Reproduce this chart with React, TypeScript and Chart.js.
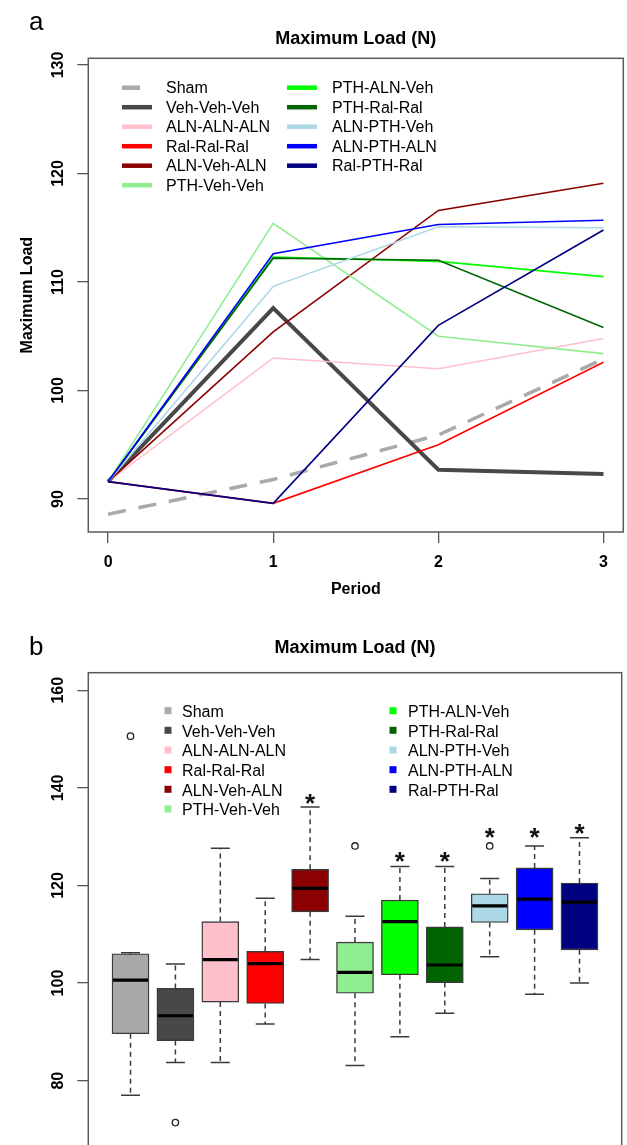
import React, { useEffect, useRef } from 'react';
import { Chart, registerables } from 'chart.js';

Chart.register(...registerables);

const FONT = '"Liberation Sans", Arial, Helvetica, sans-serif';

// ---------- data ----------
const groupNames = [
  'Sham', 'Veh-Veh-Veh', 'ALN-ALN-ALN', 'Ral-Ral-Ral', 'ALN-Veh-ALN', 'PTH-Veh-Veh',
  'PTH-ALN-Veh', 'PTH-Ral-Ral', 'ALN-PTH-Veh', 'ALN-PTH-ALN', 'Ral-PTH-Ral',
];
const groupColors = [
  '#a9a9a9', '#484848', '#ffc0cb', '#ff0000', '#8b0000', '#90ee90',
  '#00ff00', '#006400', '#add8e6', '#0000ff', '#000080',
];

const periods = [0, 1, 2, 3];
const shamLoad = [88.6, 91.8, 95.9, 102.9];
const vehVehVehLoad = [91.6, 107.6, 92.7, 92.3];
const alnAlnAlnLoad = [91.6, 103.0, 102.0, 104.8];
const ralRalRalLoad = [91.6, 89.6, 95.0, 102.6];
const alnVehAlnLoad = [91.6, 105.4, 116.6, 119.1];
const pthVehVehLoad = [91.6, 115.4, 105.0, 103.4];
const pthAlnVehLoad = [91.6, 112.3, 111.9, 110.5];
const pthRalRalLoad = [91.6, 112.2, 112.0, 105.8];
const alnPthVehLoad = [91.6, 109.6, 115.1, 115.0];
const alnPthAlnLoad = [91.6, 112.6, 115.3, 115.7];
const ralPthRalLoad = [91.6, 89.6, 106.0, 114.8];
const lineSeries = [
  shamLoad, vehVehVehLoad, alnAlnAlnLoad, ralRalRalLoad, alnVehAlnLoad, pthVehVehLoad,
  pthAlnVehLoad, pthRalRalLoad, alnPthVehLoad, alnPthAlnLoad, ralPthRalLoad,
];

const periodTicks = [0, 1, 2, 3];
const loadTicksA = [90, 100, 110, 120, 130];
const loadTicksB = [80, 100, 120, 140, 160];

const boxLower = [77.0, 83.7, 83.7, 91.6, 104.8, 83.1, 89.0, 93.8, 105.4, 97.7, 100.0];
const boxQ1 = [89.6, 88.2, 96.1, 95.8, 114.6, 97.9, 101.7, 100.1, 112.4, 110.9, 106.8];
const boxMedian = [100.6, 93.3, 104.8, 104.0, 119.4, 102.2, 112.6, 103.7, 115.8, 117.2, 116.6];
const boxQ3 = [106.0, 98.9, 112.6, 106.5, 123.3, 108.4, 117.0, 111.5, 118.3, 123.6, 120.5];
const boxUpper = [106.2, 103.9, 127.6, 117.4, 136.1, 113.7, 123.9, 123.9, 121.4, 128.1, 129.8];
const outlierGroup = [1, 2, 6, 9];
const outlierLoad = [150.6, 71.4, 128.1, 128.1];
const starGroup = [5, 7, 8, 9, 10, 11];
const starLoad = [137.8, 125.8, 125.8, 130.8, 130.8, 131.6];

// ---------- styles ----------
const lineWidths = [3.5, 4, 1.6, 1.6, 1.6, 1.6, 1.6, 1.6, 1.6, 1.6, 1.6];

const tickFont = { family: FONT, size: 16, weight: 'bold' as const };
const axisTitleFont = { family: FONT, size: 16, weight: 'bold' as const };

function frame(ctx: CanvasRenderingContext2D, a: any) {
  ctx.save();
  ctx.strokeStyle = '#5a5a5a';
  ctx.lineWidth = 1.5;
  ctx.strokeRect(a.left, a.top, a.right - a.left, a.bottom - a.top);
  ctx.restore();
}

function LineChart() {
  const ref = useRef<HTMLCanvasElement>(null);
  useEffect(() => {
    if (!ref.current) return;
    const datasets = groupNames.map((name, i) => ({
      label: name,
      data: periods.map((p, j) => ({ x: p, y: lineSeries[i][j] })),
      borderColor: groupColors[i],
      borderWidth: lineWidths[i],
      borderDash: i === 0 ? [18, 13] : [],
      pointRadius: 0,
      tension: 0,
      fill: false,
      order: groupNames.length - i,
    }));

    const decor = {
      id: 'topDecor',
      afterDraw(chart: any) {
        const ctx = chart.ctx as CanvasRenderingContext2D;
        const a = chart.chartArea;
        frame(ctx, a);
        ctx.save();
        ctx.fillStyle = '#000';
        ctx.textAlign = 'left';
        ctx.textBaseline = 'alphabetic';
        ctx.font = `26px ${FONT}`;
        ctx.fillText('a', 29, 30);
        ctx.font = `bold 18px ${FONT}`;
        ctx.textAlign = 'center';
        ctx.fillText('Maximum Load (N)', (a.left + a.right) / 2, 44.3);
        // legend
        const rows = [87.7, 107.2, 126.7, 146.2, 165.7, 185.2];
        ctx.font = `16px ${FONT}`;
        ctx.textAlign = 'left';
        ctx.textBaseline = 'middle';
        groupNames.forEach((name, i) => {
          const col = i < 6 ? 0 : 1;
          const r = i < 6 ? i : i - 6;
          const x0 = col === 0 ? 122 : 287;
          const tx = col === 0 ? 166 : 332;
          const y = rows[r];
          ctx.save();
          ctx.strokeStyle = groupColors[i];
          ctx.lineWidth = 4.5;
          ctx.setLineDash(i === 0 ? [18, 13] : []);
          ctx.beginPath();
          ctx.moveTo(x0, y);
          ctx.lineTo(x0 + 30, y);
          ctx.stroke();
          ctx.restore();
          ctx.fillStyle = '#000';
          ctx.fillText(name, tx, y + 1);
        });
        ctx.restore();
      },
    };

    const chart = new Chart(ref.current, {
      type: 'line',
      data: { datasets },
      options: {
        animation: false,
        responsive: false,
        devicePixelRatio: 1,
        layout: { padding: { top: 58.3, right: 3.7, left: 0, bottom: 0 } },
        plugins: {
          legend: { display: false },
          tooltip: { enabled: false },
          title: { display: false },
        },
        scales: {
          x: {
            type: 'linear',
            min: -0.12,
            max: 3.12,
            afterBuildTicks: (s: any) => { s.ticks = periodTicks.map((v) => ({ value: v })); },
            afterFit: (s: any) => { s.height = 78; },
            grid: { drawOnChartArea: false, drawTicks: true, tickLength: 11, color: '#555', lineWidth: 1.3 },
            border: { display: false },
            ticks: { font: tickFont, color: '#000', padding: 10, maxRotation: 0, minRotation: 0 },
            title: { display: true, text: 'Period', font: axisTitleFont, color: '#000', padding: { top: 0, bottom: 10.4 } },
          },
          y: {
            type: 'linear',
            min: 86.96,
            max: 130.62,
            afterBuildTicks: (s: any) => { s.ticks = loadTicksA.map((v) => ({ value: v })); },
            afterFit: (s: any) => { s.width = 88.3; },
            grid: { drawOnChartArea: false, drawTicks: true, tickLength: 11, color: '#555', lineWidth: 1.3 },
            border: { display: false },
            ticks: { font: tickFont, color: '#000', padding: 5, minRotation: 90, maxRotation: 90, crossAlign: 'center' },
            title: { display: true, text: 'Maximum Load', font: axisTitleFont, color: '#000', padding: { top: 18.4, bottom: 0 } },
          },
        },
      } as any,
      plugins: [decor],
    });
    return () => chart.destroy();
  }, []);
  return <canvas ref={ref} width={627} height={610} style={{ position: 'absolute', left: 0, top: 0 }} />;
}

function BoxChart() {
  const ref = useRef<HTMLCanvasElement>(null);
  useEffect(() => {
    if (!ref.current) return;

    const boxDecor = {
      id: 'boxDecor',
      afterDatasetsDraw(chart: any) {
        const ctx = chart.ctx as CanvasRenderingContext2D;
        const xs = chart.scales.x;
        const ys = chart.scales.y;
        const half = 18.5;
        const capHalf = 9.5;
        ctx.save();
        groupNames.forEach((_, i) => {
          const x = xs.getPixelForValue(i + 1);
          const yLo = ys.getPixelForValue(boxLower[i]);
          const yQ1 = ys.getPixelForValue(boxQ1[i]);
          const yMed = ys.getPixelForValue(boxMedian[i]);
          const yQ3 = ys.getPixelForValue(boxQ3[i]);
          const yHi = ys.getPixelForValue(boxUpper[i]);
          ctx.strokeStyle = '#3a3a3a';
          ctx.lineWidth = 1.5;
          ctx.setLineDash([5, 4]);
          ctx.beginPath();
          ctx.moveTo(x, yQ3); ctx.lineTo(x, yHi);
          ctx.moveTo(x, yQ1); ctx.lineTo(x, yLo);
          ctx.stroke();
          ctx.setLineDash([]);
          ctx.beginPath();
          ctx.moveTo(x - capHalf, yHi); ctx.lineTo(x + capHalf, yHi);
          ctx.moveTo(x - capHalf, yLo); ctx.lineTo(x + capHalf, yLo);
          ctx.stroke();
          ctx.strokeStyle = '#000';
          ctx.lineWidth = 3.2;
          ctx.beginPath();
          ctx.moveTo(x - half + 1, yMed); ctx.lineTo(x + half - 1, yMed);
          ctx.stroke();
        });
        // significance stars
        ctx.fillStyle = '#111';
        ctx.font = `bold 26px ${FONT}`;
        ctx.textAlign = 'center';
        ctx.textBaseline = 'middle';
        starGroup.forEach((g, i) => {
          ctx.fillText('*', xs.getPixelForValue(g), ys.getPixelForValue(starLoad[i]) + 6);
        });
        ctx.restore();
      },
      afterDraw(chart: any) {
        const ctx = chart.ctx as CanvasRenderingContext2D;
        const a = chart.chartArea;
        frame(ctx, a);
        ctx.save();
        ctx.fillStyle = '#000';
        ctx.textAlign = 'left';
        ctx.textBaseline = 'alphabetic';
        ctx.font = `26px ${FONT}`;
        ctx.fillText('b', 29, 55);
        ctx.font = `bold 18px ${FONT}`;
        ctx.textAlign = 'center';
        ctx.fillText('Maximum Load (N)', (a.left + a.right) / 2, 53);
        const rows = [111.7, 131.3, 151, 170.7, 190.3, 210];
        ctx.font = `16px ${FONT}`;
        ctx.textAlign = 'left';
        ctx.textBaseline = 'middle';
        groupNames.forEach((name, i) => {
          const col = i < 6 ? 0 : 1;
          const r = i < 6 ? i : i - 6;
          const sx = col === 0 ? 168 : 393;
          const tx = col === 0 ? 182 : 408;
          const y = rows[r];
          ctx.fillStyle = groupColors[i];
          ctx.fillRect(sx - 3.5, y - 4.5, 7, 7);
          ctx.fillStyle = '#000';
          ctx.fillText(name, tx, y + 1);
        });
        ctx.restore();
      },
    };

    const chart = new Chart(ref.current, {
      type: 'bar',
      data: {
        datasets: [
          {
            type: 'bar',
            label: 'boxes',
            data: groupNames.map((_, i) => ({ x: i + 1, y: [boxQ1[i], boxQ3[i]] })),
            backgroundColor: groupColors,
            borderColor: '#3a3a3a',
            borderWidth: 1.4,
            borderSkipped: false,
            barThickness: 37,
          },
          {
            type: 'scatter',
            label: 'outliers',
            data: outlierGroup.map((g, i) => ({ x: g, y: outlierLoad[i] })),
            pointRadius: 3.2,
            pointBorderColor: '#222',
            pointBackgroundColor: 'rgba(255,255,255,0)',
            pointBorderWidth: 1.3,
          },
        ],
      } as any,
      options: {
        animation: false,
        responsive: false,
        devicePixelRatio: 1,
        layout: { padding: { top: 72.7, right: 4.3, left: 0, bottom: 53 } },
        plugins: {
          legend: { display: false },
          tooltip: { enabled: false },
          title: { display: false },
        },
        scales: {
          x: {
            type: 'linear',
            min: 0.06,
            max: 11.94,
            offset: false,
            grid: { offset: false },
            display: false,
          },
          y: {
            type: 'linear',
            min: 66.4,
            max: 163.6,
            afterBuildTicks: (s: any) => { s.ticks = loadTicksB.map((v) => ({ value: v })); },
            afterFit: (s: any) => { s.width = 88.3; },
            grid: { drawOnChartArea: false, drawTicks: true, tickLength: 11, color: '#555', lineWidth: 1.3 },
            border: { display: false },
            ticks: { font: tickFont, color: '#000', padding: 5, minRotation: 90, maxRotation: 90, crossAlign: 'center' },
          },
        },
      } as any,
      plugins: [boxDecor],
    });
    return () => chart.destroy();
  }, []);
  return <canvas ref={ref} width={627} height={600} style={{ position: 'absolute', left: 0, top: 600 }} />;
}

export default function App() {
  return (
    <div style={{ position: 'absolute', left: 0, top: 0, width: 627, height: 1145, overflow: 'hidden', background: '#fff' }}>
      <LineChart />
      <BoxChart />
    </div>
  );
}
